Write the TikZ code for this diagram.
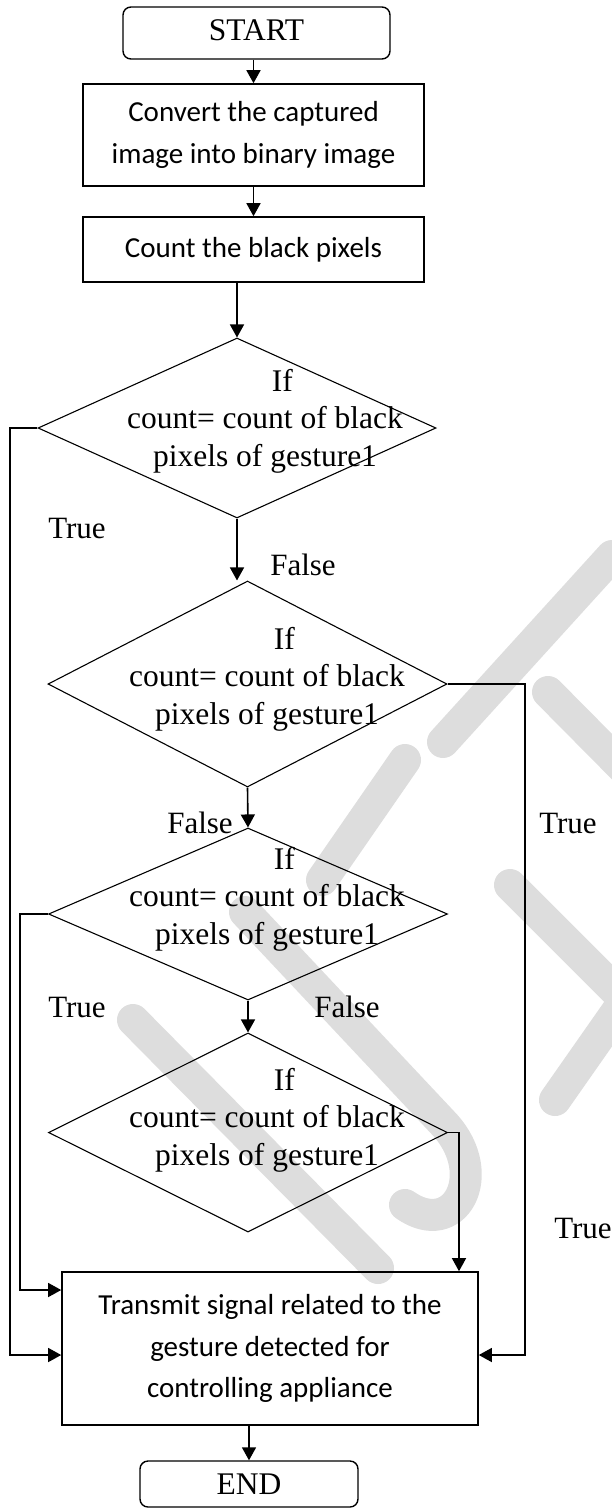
\documentclass[tikz,border=0pt]{standalone}
\usepackage{fontspec}
\setmainfont{Liberation Serif}
\newfontfamily\calfont{Carlito}
\usetikzlibrary{arrows.meta,shapes.geometric,calc}
\definecolor{wmark}{RGB}{221,221,221}

\begin{document}
\begin{tikzpicture}[x=1pt,y=-1pt,
  box/.style={draw,line width=1.6pt,inner sep=0pt,align=center,
    font=\calfont\fontsize{29}{41.5}\selectfont},
  term/.style={draw,line width=1.4pt,rounded corners=8pt,inner sep=0pt,
    font=\fontsize{31.5}{36}\selectfont},
  decision/.style={draw,diamond,line width=1.1pt,inner sep=0pt},
  cond/.style={inner sep=0pt,align=center,font=\fontsize{31.5}{37.5}\selectfont},
  lbl/.style={inner sep=0pt,font=\fontsize{31}{36}\selectfont},
  arr/.style={line width=1.6pt,-{Triangle[length=13pt,width=14pt]}},
  flow/.style={line width=1.3pt,-{Triangle[length=13pt,width=14pt]}},
  wm/.style={line width=32pt,line cap=round,line join=round,draw=wmark}
]
\useasboundingbox (0,0) rectangle (611,1509);

% background logo strokes
\draw[wm] (133,1020) -- (378,1268);
\draw[wm] (245,912) -- (445,1125) .. controls (490,1175) and (455,1240) .. (405,1205);
\draw[wm] (443,742) -- (612,556);
\draw[wm] (548,692) -- (650,795);
\draw[wm] (405,760) -- (322,880);
\draw[wm] (510,885) -- (625,1000) -- (555,1100);

% process steps
\node[term,minimum width=267pt,minimum height=52pt] (start) at (256.5,33) {\raisebox{5pt}{START}};
\node[box,minimum width=341pt,minimum height=102pt] (b1) at (253.5,135)
  {Convert the captured\\image into binary image};
\node[box,minimum width=341pt,minimum height=65pt] (b2) at (253.5,249.5)
  {Count the black pixels};

% decisions
\node[decision,minimum width=398pt,minimum height=180pt] (d1) at (237,428) {};
\node[decision,minimum width=399pt,minimum height=206pt] (d2) at (247.5,684) {};
\node[decision,minimum width=399pt,minimum height=172pt] (d3) at (248,914) {};
\node[decision,minimum width=399pt,minimum height=199pt] (d4) at (248,1132.5) {};

\node[cond] (t1) at (265,421) {\hspace*{1.1em}If\\count= count of black\\pixels of gesture1};
\node[cond] (t2) at (267,679) {\hspace*{1.1em}If\\count= count of black\\pixels of gesture1};
\node[cond] (t3) at (267,899) {\hspace*{1.1em}If\\count= count of black\\pixels of gesture1};
\node[cond] (t4) at (267,1120) {\hspace*{1.1em}If\\count= count of black\\pixels of gesture1};

\node[box,minimum width=416pt,minimum height=153pt] (b3) at (270,1348.5)
  {Transmit signal related to the\\gesture detected for\\controlling appliance};
\node[term,minimum width=218pt,minimum height=46pt] (end) at (249,1484) {END};

% branch labels
\node[lbl] (l1) at (77,528) {True};
\node[lbl] (l2) at (303,565) {False};
\node[lbl] (l3) at (568,823) {True};
\node[lbl] (l4) at (200,823) {False};
\node[lbl] (l5) at (77,1007) {True};
\node[lbl] (l6) at (347,1007) {False};
\node[lbl] (l7) at (583,1228) {True};

% routing points of the side branches
\coordinate (ra) at (10,1355);
\coordinate (rb) at (20,1290);
\coordinate (rc) at (525,1355);
\coordinate (rd) at (459,0);

% main flow
\draw[arr] (start.south -| b1.north) -- (b1.north);
\draw[arr] (b1.south) -- (b2.north);
\draw[arr] (b2.south -| d1.north) -- (d1.north);
\draw[arr] (d1.south) -- (d1.south |- d2.north);
\draw[arr] (d2.south) -- (d3.north);
\draw[arr] (d3.south) -- (d4.north);
\draw[arr] (b3.south -| end.north) -- (end.north);

% true branches
\draw[flow] (d1.west) -- (d1.west -| ra) |- (b3.west |- ra);
\draw[flow] (d3.west) -- (d3.west -| rb) |- (b3.west |- rb);
\draw[flow] (d2.east) -- (d2.east -| rc) |- (b3.east |- rc);
\draw[flow] (d4.east) -| (b3.north -| rd);
\end{tikzpicture}
\end{document}
